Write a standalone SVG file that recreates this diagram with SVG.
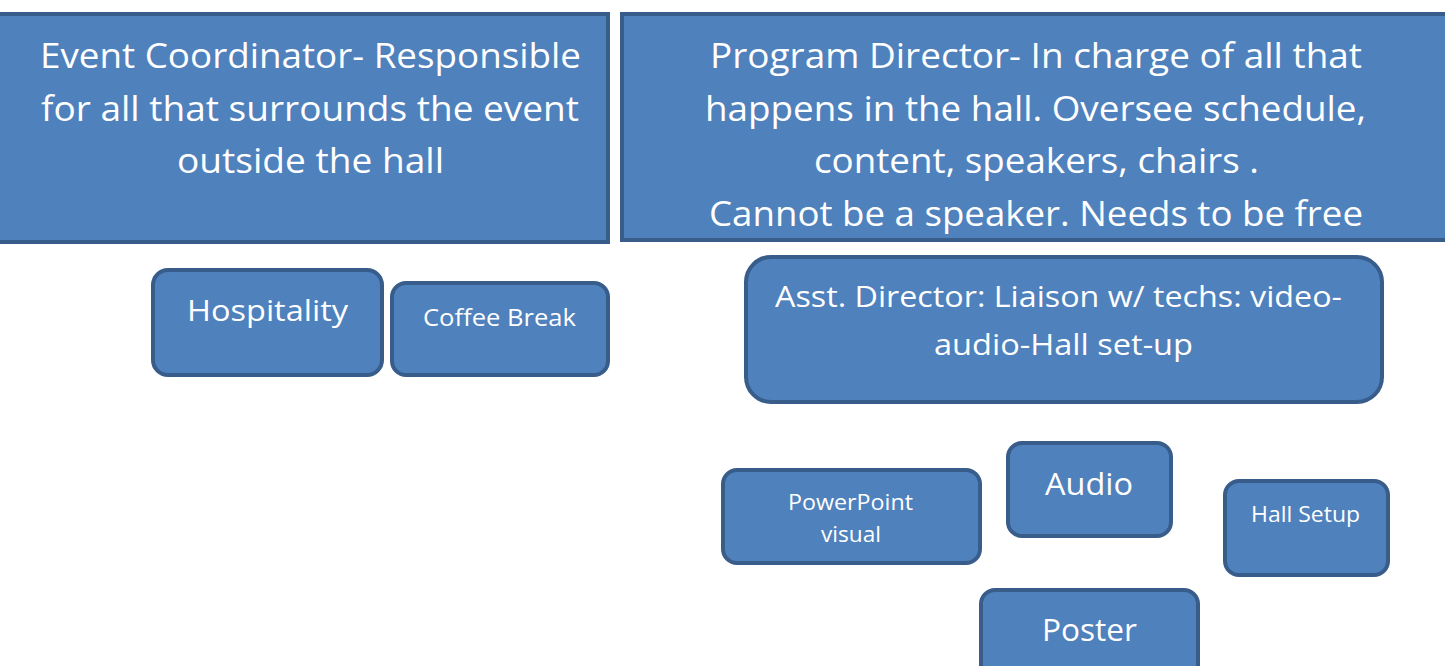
<svg xmlns="http://www.w3.org/2000/svg" width="1445" height="666" viewBox="0 0 1445 666">
<style>
.box{fill:#4F81BD;stroke:#385D8A;stroke-width:4}
.t{fill:#FFFFFF;font-family:"Open Sans","Noto Sans",sans-serif;text-anchor:middle}
</style>
<rect width="1445" height="666" fill="#FFFFFF"/>
<g id="event-coordinator">
<rect class="box" x="-4" y="14" width="612" height="228"/>
<text class="t" font-size="34" x="310.5" y="68" textLength="541" lengthAdjust="spacingAndGlyphs">Event Coordinator- Responsible</text>
<text class="t" font-size="34" x="310" y="120.5" textLength="538" lengthAdjust="spacingAndGlyphs">for all that surrounds the event</text>
<text class="t" font-size="34" x="310.5" y="173" textLength="267" lengthAdjust="spacingAndGlyphs">outside the hall</text>
</g>
<g id="program-director">
<rect class="box" x="622" y="14" width="830" height="226"/>
<text class="t" font-size="34" x="1036" y="68" textLength="652" lengthAdjust="spacingAndGlyphs">Program Director- In charge of all that</text>
<text class="t" font-size="34" x="1035.5" y="120.5" textLength="661" lengthAdjust="spacingAndGlyphs">happens in the hall. Oversee schedule,</text>
<text class="t" font-size="34" x="1036.5" y="173" textLength="445" lengthAdjust="spacingAndGlyphs">content, speakers, chairs .</text>
<text class="t" font-size="34" x="1036" y="225.5" textLength="654" lengthAdjust="spacingAndGlyphs">Cannot be a speaker. Needs to be free</text>
</g>
<g id="hospitality">
<rect class="box" x="153" y="270" width="229" height="105" rx="15"/>
<text class="t" font-size="30" x="267.5" y="321" textLength="161" lengthAdjust="spacingAndGlyphs">Hospitality</text>
</g>
<g id="coffee-break">
<rect class="box" x="392" y="283" width="216" height="92" rx="14"/>
<text class="t" font-size="24" x="499.5" y="326" textLength="153" lengthAdjust="spacingAndGlyphs">Coffee Break</text>
</g>
<g id="asst-director">
<rect class="box" x="746" y="257" width="636" height="145" rx="25"/>
<text class="t" font-size="30" x="1058.5" y="307" textLength="567" lengthAdjust="spacingAndGlyphs">Asst. Director: Liaison w/ techs: video-</text>
<text class="t" font-size="30" x="1063.5" y="355" textLength="259" lengthAdjust="spacingAndGlyphs">audio-Hall set-up</text>
</g>
<g id="powerpoint">
<rect class="box" x="723" y="470" width="257" height="93" rx="14"/>
<text class="t" font-size="21" x="850.5" y="510" textLength="125" lengthAdjust="spacingAndGlyphs">PowerPoint</text>
<text class="t" font-size="21" x="851" y="542" textLength="60" lengthAdjust="spacingAndGlyphs">visual</text>
</g>
<g id="audio">
<rect class="box" x="1008" y="443" width="163" height="93" rx="14"/>
<text class="t" font-size="31" x="1089" y="495" textLength="88" lengthAdjust="spacingAndGlyphs">Audio</text>
</g>
<g id="hall-setup">
<rect class="box" x="1225" y="481" width="163" height="94" rx="14"/>
<text class="t" font-size="21" x="1305.5" y="522" textLength="109" lengthAdjust="spacingAndGlyphs">Hall Setup</text>
</g>
<g id="poster">
<rect class="box" x="981" y="590" width="217" height="100" rx="14"/>
<text class="t" font-size="31" x="1089.5" y="641" textLength="95" lengthAdjust="spacingAndGlyphs">Poster</text>
</g>
<g id="connectors"></g>
</svg>
